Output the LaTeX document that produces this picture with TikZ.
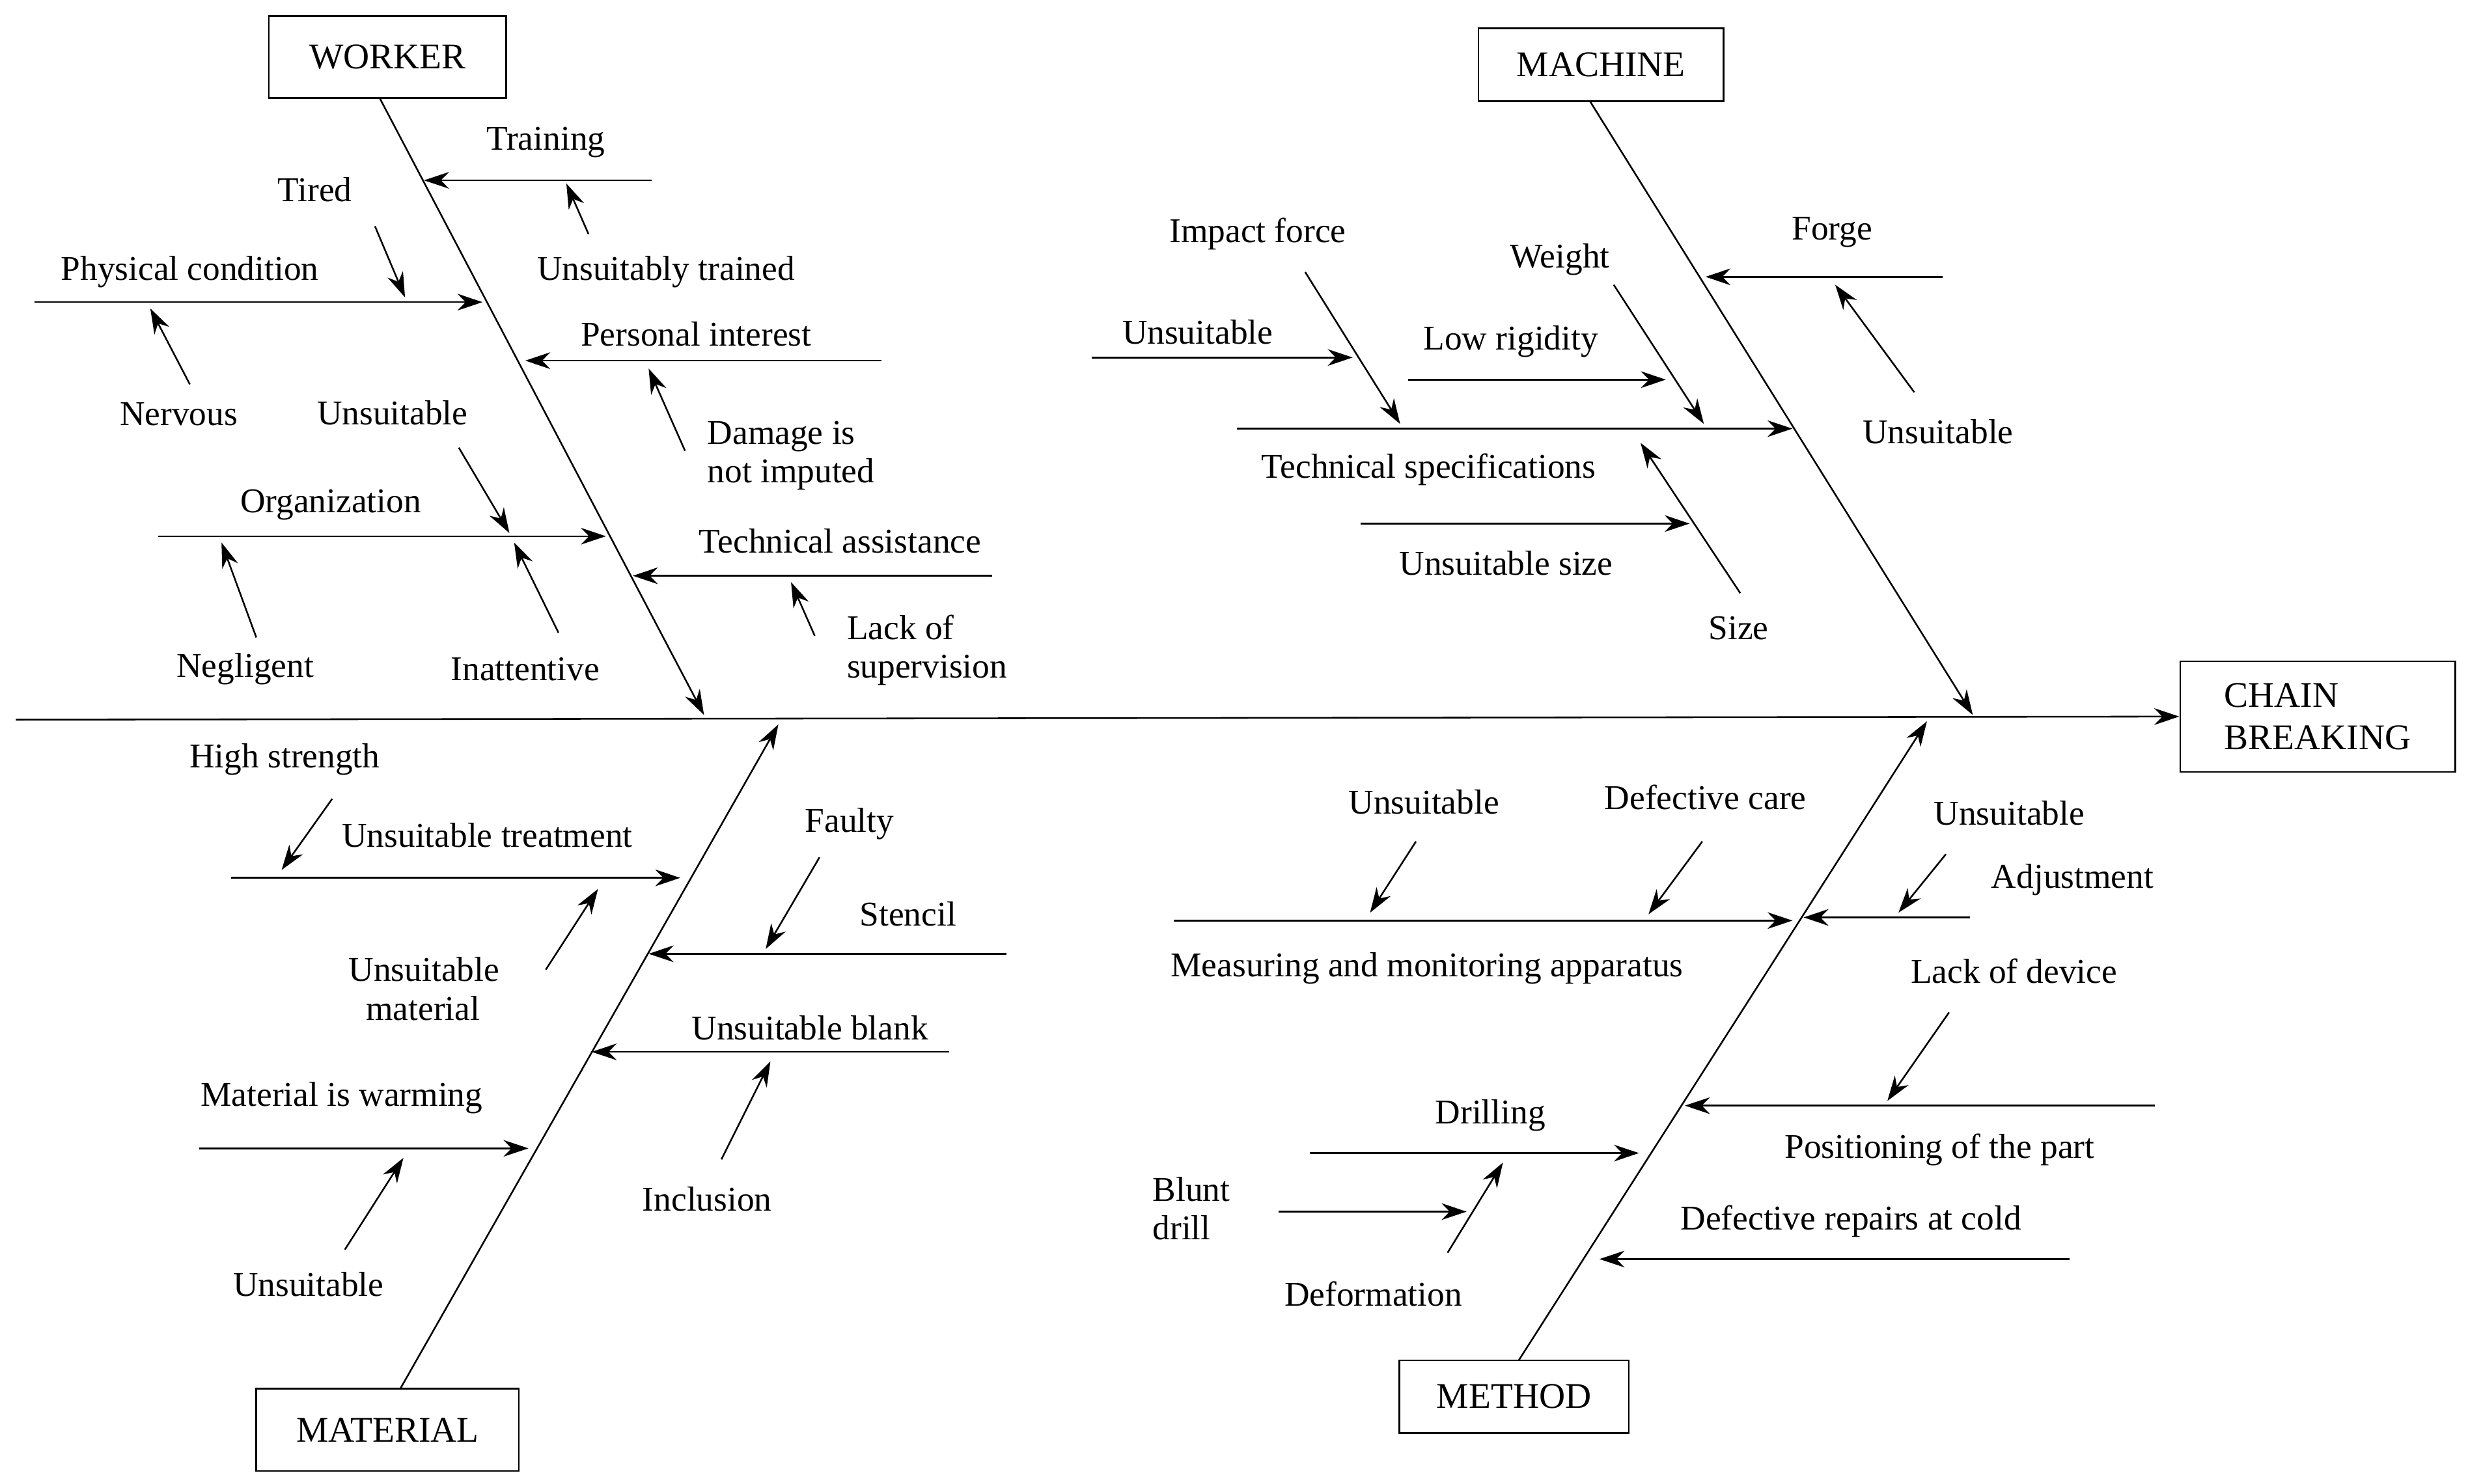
\documentclass[tikz,border=0pt]{standalone}
\usepackage{fontspec}
\setmainfont{Liberation Serif}
\usetikzlibrary{arrows.meta}
\tikzset{%
        bone/.style = {-{Stealth[length=9pt,width=6pt]}, line width=0.6pt},
        lbl/.style = {font=\fontsize{12.5}{14}\selectfont, align=left, inner sep=1pt},
        box/.style = {draw, line width=0.6pt, font=\fontsize{13}{15}\selectfont, align=left}
}
\begin{document}
\begin{tikzpicture}[x=0.02cm, y=-0.02cm]
        \useasboundingbox (0,0) rectangle (1560,938);
        % heads and boxes
        \node[box, minimum width=3cm, minimum height=1.04cm] (worker) at (245,36) {WORKER};
        \node[box, minimum width=3.1cm, minimum height=0.92cm] (machine) at (1012,41) {MACHINE};
        \node[box, minimum width=3.32cm, minimum height=1.04cm] (material) at (245,904) {MATERIAL};
        \node[box, minimum width=2.9cm, minimum height=0.92cm] (method) at (957,883) {METHOD};
        \node[box, minimum width=3.48cm, minimum height=1.4cm] (effect) at (1465,453) {CHAIN\\BREAKING};
        \coordinate (tail) at (10,455);
        \draw[bone] (tail) -- (effect.west);
        % main bones
        \coordinate (w0) at (240,62);  \coordinate (w1) at (445,452);
        \coordinate (m0) at (1005,64); \coordinate (m1) at (1247,452);
        \coordinate (a0) at (253,878); \coordinate (a1) at (492,458);
        \coordinate (d0) at (960,860); \coordinate (d1) at (1218,456);
        \draw[bone] (w0) -- (w1);
        \draw[bone] (m0) -- (m1);
        \draw[bone] (a0) -- (a1);
        \draw[bone] (d0) -- (d1);
        % worker
        \foreach \xa/\ya/\xb/\yb in {412/114/268/114, 22/191/305/191, 557/228/332/228,
            100/339/383/339, 627/364/400/364, 372/148/358/116, 237/143/256/188,
            120/243/95/195, 433/285/410/233, 290/283/322/337, 162/403/140/343,
            353/400/325/343, 515/402/500/368}
          \draw[bone] (\xa,\ya) -- (\xb,\yb);
        \node[lbl] (training) at (345,90) {Training};
        \node[lbl] (untrained) at (421,172) {Unsuitably trained};
        \node[lbl] (tired) at (199,120) {Tired};
        \node[lbl] (physical) at (120,172) {Physical condition};
        \node[lbl] (nervous) at (113,262) {Nervous};
        \node[lbl] (interest) at (440,211) {Personal interest};
        \node[lbl] (damage) at (500,288) {Damage is\\not imputed};
        \node[lbl] (wunsuit) at (248,261) {Unsuitable};
        \node[lbl] (organization) at (209,319) {Organization};
        \node[lbl] (negligent) at (155,423) {Negligent};
        \node[lbl] (inattentive) at (332,423) {Inattentive};
        \node[lbl] (assistance) at (531,342) {Technical assistance};
        \node[lbl] (supervision) at (586,411) {Lack of\\supervision};
        % machine
        \foreach \xa/\ya/\xb/\yb in {1228/175/1078/175, 1210/248/1160/180, 782/271/1133/271,
            825/172/885/268, 690/226/855/226, 890/240/1053/240, 1020/180/1077/268,
            1100/375/1037/280, 860/331/1068/331}
          \draw[bone] (\xa,\ya) -- (\xb,\yb);
        \node[lbl] (forge) at (1158,147) {Forge};
        \node[lbl] (munsuit) at (1225,273) {Unsuitable};
        \node[lbl] (impact) at (795,148) {Impact force};
        \node[lbl] (munsuit2) at (757,210) {Unsuitable};
        \node[lbl] (rigidity) at (955,216) {Low rigidity};
        \node[lbl] (weight) at (986,164) {Weight};
        \node[lbl] (specs) at (903,297) {Technical specifications};
        \node[lbl] (size) at (1099,397) {Size};
        \node[lbl] (usize) at (952,356) {Unsuitable size};
        % material
        \foreach \xa/\ya/\xb/\yb in {210/505/178/550, 146/555/430/555, 345/613/378/562,
            636/603/410/603, 518/542/484/600, 600/665/374/665, 456/733/487/671,
            126/726/334/726, 218/790/255/732}
          \draw[bone] (\xa,\ya) -- (\xb,\yb);
        \node[lbl] (strength) at (180,480) {High strength};
        \node[lbl] (treatment) at (308,528) {Unsuitable treatment};
        \node[lbl] (umaterial) at (268,625) {Unsuitable\\\hspace*{0pt}\ \ material};
        \node[lbl] (stencil) at (574,578) {Stencil};
        \node[lbl] (faulty) at (537,521) {Faulty};
        \node[lbl] (blank) at (512,650) {Unsuitable blank};
        \node[lbl] (inclusion) at (447,758) {Inclusion};
        \node[lbl] (warming) at (216,694) {Material is warming};
        \node[lbl] (aunsuit) at (195,812) {Unsuitable};
        % method
        \foreach \xa/\ya/\xb/\yb in {742/582/1133/582, 895/532/866/577, 1076/532/1042/578,
            1245/580/1140/580, 1230/540/1200/577, 1362/699/1065/699, 1232/640/1193/696,
            828/729/1036/729, 808/766/927/766, 915/792/950/735, 1308/796/1011/796}
          \draw[bone] (\xa,\ya) -- (\xb,\yb);
        \node[lbl] (measuring) at (902,612) {Measuring and monitoring apparatus};
        \node[lbl] (dunsuit) at (900,507) {Unsuitable};
        \node[lbl] (care) at (1078,504) {Defective care};
        \node[lbl] (adjustment) at (1310,556) {Adjustment};
        \node[lbl] (dunsuit2) at (1270,514) {Unsuitable};
        \node[lbl] (positioning) at (1226,727) {Positioning of the part};
        \node[lbl] (device) at (1273,614) {Lack of device};
        \node[lbl] (drilling) at (942,705) {Drilling};
        \node[lbl] (blunt) at (753,764) {Blunt\\drill};
        \node[lbl] (deformation) at (868,818) {Deformation};
        \node[lbl] (repairs) at (1170,772) {Defective repairs at cold};
\end{tikzpicture}
\end{document}
